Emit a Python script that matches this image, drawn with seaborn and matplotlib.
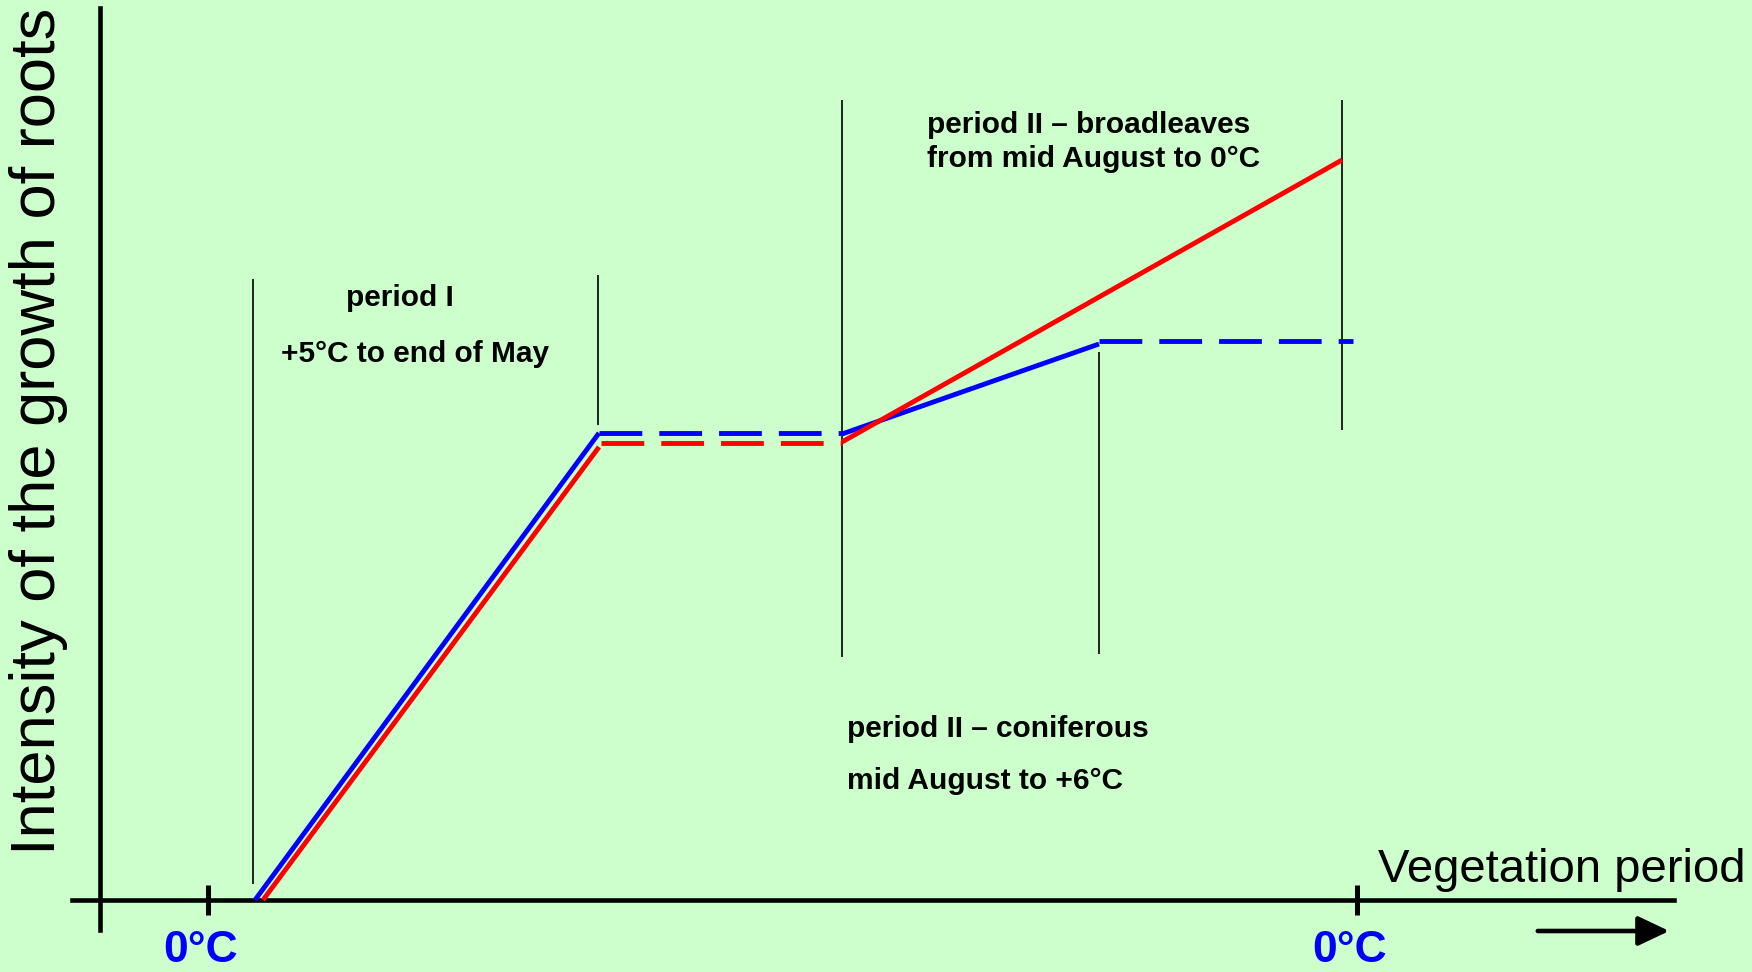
import matplotlib.pyplot as plt
import seaborn as sns
from matplotlib.transforms import ScaledTranslation

# Canvas units: x runs along the vegetation period, y is growth intensity
# (0 = the horizontal axis).

# coniferous (blue) line, one entry per segment
coniferous_x = [[255, 599], [599, 842], [842, 1099], [1099, 1353]]
coniferous_y = [[0, 467], [467, 467], [466, 556], [559, 559]]
coniferous_dashed = [False, True, False, True]

# broadleaves (red) line, one entry per segment
broadleaves_x = [[263, 599], [601, 842], [842, 1342]]
broadleaves_y = [[0, 453], [457, 457], [458, 740]]
broadleaves_dashed = [False, True, False]

# thin vertical period boundaries
marker_x = [253, 598, 842, 1099, 1342]
marker_top = [621, 625, 800, 548, 800]
marker_bottom = [16, 475, 243, 246, 470]

tick_pos = [208, 1357]
tick_labels = ['0°C', '0°C']

BG = '#CCFFCC'
DASH = (0, (8.8, 3.5))

sns.set_theme(style='white')
plt.rcParams['font.family'] = ['Liberation Sans', 'DejaVu Sans']
plt.rcParams['text.color'] = 'black'

fig = plt.figure(figsize=(17.52, 9.72), dpi=100, facecolor=BG)
ax = fig.add_axes([0, 0, 1, 1])
ax.set_facecolor(BG)
ax.set_xlim(0, 1752)
ax.set_ylim(-72, 900)

# period boundaries
ax.vlines(marker_x, marker_bottom, marker_top, color='black', lw=1.2, zorder=1)

# growth lines
for series_x, series_y, dashed, color in [
    (coniferous_x, coniferous_y, coniferous_dashed, '#0000FF'),
    (broadleaves_x, broadleaves_y, broadleaves_dashed, '#FF0000'),
]:
    for xs, ys, d in zip(series_x, series_y, dashed):
        sns.lineplot(x=xs, y=ys, ax=ax, color=color, lw=3.5, sort=False,
                     estimator=None, linestyle=DASH if d else '-',
                     solid_capstyle='butt', zorder=3)

# axes drawn like the hand-made original
sns.despine(ax=ax)
ax.spines['left'].set_position(('data', 100))
ax.spines['left'].set_bounds(-30, 892)
ax.spines['bottom'].set_position(('data', 0))
ax.spines['bottom'].set_bounds(72, 1674)
for s in ['left', 'bottom']:
    ax.spines[s].set_linewidth(3.3)
    ax.spines[s].set_color('black')
ax.set_yticks([])
ax.set_xticks(tick_pos)
ax.set_xticklabels(tick_labels, fontweight='bold', color='#0000FF', fontsize=32)
ax.tick_params(axis='x', bottom=True, direction='inout', length=21.6,
               width=3.6, color='black', pad=11)
for lab in ax.get_xticklabels():
    lab.set_transform(lab.get_transform()
                      + ScaledTranslation(-0.07, 0, fig.dpi_scale_trans))

# axis titles
ax.text(39, 45, 'Intensity of the growth of roots', rotation=90,
        ha='center', va='bottom', fontsize=45.5)
ax.text(1378, 18, 'Vegetation period', ha='left', va='baseline', fontsize=34)
ax.annotate('', xy=(1672, -31), xytext=(1535, -31),
            arrowprops=dict(arrowstyle='-|>,head_length=0.95,head_width=0.45',
                            color='black', lw=3.3, mutation_scale=20))

# period annotations
txt = dict(fontsize=21.5, fontweight='bold', color='black')
ax.text(400, 602, 'period I', ha='center', va='center', **txt)
ax.text(415, 546, '+5°C to end of May', ha='center', va='center', **txt)
ax.text(927, 775, 'period II – broadleaves', ha='left', va='center', **txt)
ax.text(927, 741, 'from mid August to 0°C', ha='left', va='center', **txt)
ax.text(847, 171, 'period II – coniferous', ha='left', va='center', **txt)
ax.text(847, 119, 'mid August to +6°C', ha='left', va='center', **txt)

plt.savefig('out.png', dpi=100, facecolor=BG)
